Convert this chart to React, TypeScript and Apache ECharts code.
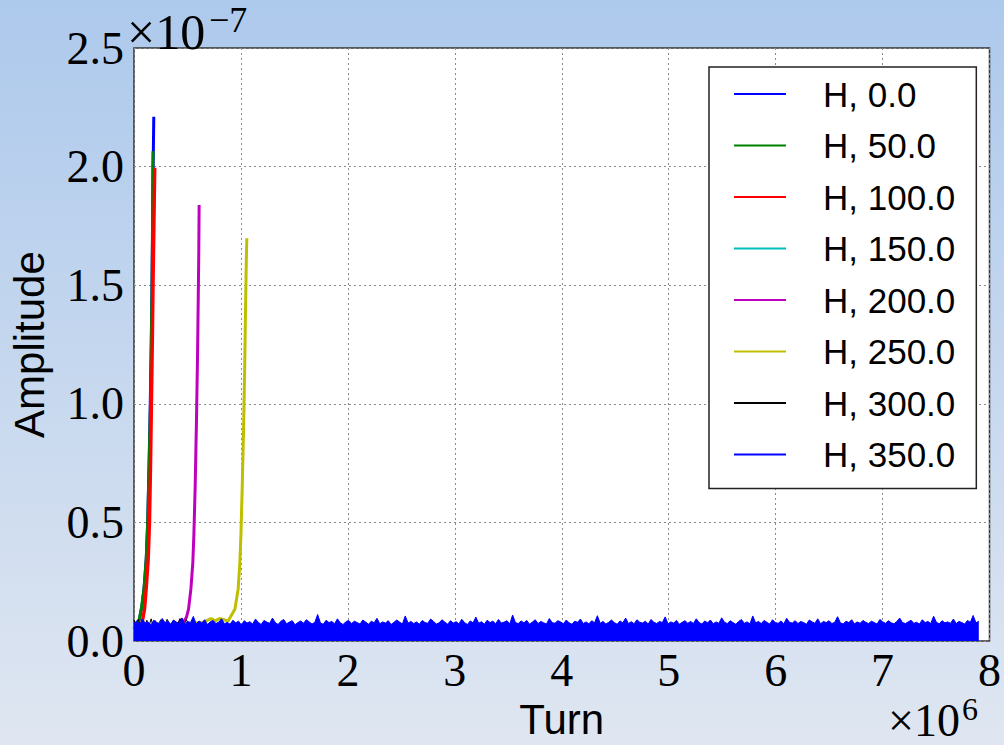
import React, { useEffect, useRef } from "react";
import * as echarts from "echarts";

// Turn in units of 1e6, amplitude in units of 1e-7
const SERIES_NAMES = ["H, 0.0", "H, 50.0", "H, 100.0", "H, 150.0", "H, 200.0", "H, 250.0", "H, 300.0", "H, 350.0"];
const SERIES_COLORS = ["#0000ff", "#008000", "#ff0000", "#00bfbf", "#bf00bf", "#bfbf00", "#000000", "#0000ff"];

const X_TICKS = [0, 1, 2, 3, 4, 5, 6, 7, 8];
const Y_TICKS = [0, 0.5, 1.0, 1.5, 2.0, 2.5];

const H0: [number, number][] = [
  [0.0, 0.05], [0.02, 0.07], [0.05, 0.09], [0.075, 0.15], [0.096, 0.23], [0.115, 0.35], [0.128, 0.5],
  [0.141, 0.75], [0.152, 1.0], [0.161, 1.25], [0.168, 1.5], [0.174, 1.75], [0.179, 2.0], [0.185, 2.21],
];
const H50: [number, number][] = [
  [0.0, 0.05], [0.02, 0.07], [0.046, 0.085], [0.07, 0.14], [0.093, 0.22], [0.114, 0.345], [0.128, 0.5],
  [0.142, 0.75], [0.154, 1.0], [0.162, 1.25], [0.169, 1.5], [0.173, 1.75], [0.176, 2.0], [0.178, 2.065],
];
const H100: [number, number][] = [
  [0.0, 0.05], [0.05, 0.06], [0.077, 0.08], [0.099, 0.135], [0.114, 0.22], [0.133, 0.345], [0.145, 0.5],
  [0.155, 0.75], [0.163, 1.0], [0.171, 1.25], [0.178, 1.5], [0.186, 1.75], [0.194, 1.995],
];
const H150: [number, number][] = [
  [0.0, 0.04], [0.05, 0.06], [0.1, 0.05], [0.15, 0.065], [0.2, 0.05], [0.25, 0.06], [0.3, 0.05],
];
const H200: [number, number][] = [
  [0.0, 0.05], [0.1, 0.06], [0.2, 0.05], [0.3, 0.065], [0.4, 0.06], [0.44, 0.09], [0.464, 0.08],
  [0.49, 0.1], [0.51, 0.135], [0.532, 0.22], [0.55, 0.33], [0.56, 0.45], [0.572, 0.65], [0.585, 0.95],
  [0.594, 1.2], [0.601, 1.45], [0.606, 1.65], [0.609, 1.838],
];
const H250: [number, number][] = [
  [0.0, 0.05], [0.2, 0.06], [0.4, 0.07], [0.55, 0.075], [0.65, 0.08], [0.72, 0.095], [0.76, 0.085],
  [0.8, 0.095], [0.84, 0.09], [0.88, 0.085], [0.944, 0.135], [0.974, 0.22], [0.99, 0.33], [1.0, 0.45],
  [1.012, 0.65], [1.025, 0.9], [1.035, 1.15], [1.043, 1.4], [1.05, 1.6], [1.055, 1.698],
];
const H300: [number, number][] = [
  [0.0, 0.09], [0.02, 0.06], [0.04, 0.092], [0.06, 0.065], [0.08, 0.09], [0.1, 0.06], [0.12, 0.088],
  [0.14, 0.062], [0.16, 0.094], [0.18, 0.06], [0.2, 0.086], [0.22, 0.064], [0.25, 0.09], [0.28, 0.06],
  [0.31, 0.092], [0.34, 0.065], [0.37, 0.088], [0.4, 0.06], [0.43, 0.095], [0.46, 0.062], [0.49, 0.09],
  [0.52, 0.06], [0.55, 0.085], [0.58, 0.06],
];

// H, 350.0: top of the fast-oscillating noise band (units of 1e-10), sampled evenly from 0 to 7.9e6 turns
const H350_START = 0;
const H350_END = 7.9;
const H350_TOP = [
  74, 86, 70, 92, 76, 81, 68, 88, 79, 73, 95, 77, 84, 71, 89, 80, 75, 98, 69, 83,
  78, 104, 72, 85, 76, 90, 70, 82, 87, 74, 80, 94, 73, 79, 71, 88, 77, 84, 68, 86,
  76, 82, 72, 93, 79, 70, 87, 80, 75, 97, 78, 70, 84, 91, 73, 80, 86, 69, 78, 85,
  75, 90, 81, 72, 79, 112, 76, 71, 88, 78, 83, 73, 94, 77, 70, 82, 87, 74, 84, 78,
  72, 89, 80, 71, 84, 77, 96, 73, 81, 76, 86, 70, 79, 89, 80, 72, 106, 76, 83, 74,
  81, 71, 87, 78, 75, 93, 83, 72, 77, 90, 80, 71, 86, 76, 82, 73, 92, 78, 70, 85,
  77, 101, 75, 82, 71, 88, 78, 84, 73, 91, 76, 80, 86, 72, 110, 78, 74, 85, 77, 87,
  71, 80, 90, 74, 83, 77, 72, 95, 78, 75, 86, 81, 73, 89, 77, 71, 84, 79, 93, 74,
  81, 73, 86, 77, 107, 75, 83, 72, 79, 89, 78, 71, 85, 77, 97, 74, 82, 73, 90, 79,
  76, 84, 72, 91, 79, 74, 83, 78, 102, 73, 81, 76, 87, 71, 79, 86, 75, 83, 74, 94,
  78, 72, 85, 77, 89, 73, 81, 75, 98, 79, 74, 86, 78, 71, 83, 91, 75, 81, 73, 106,
  77, 83, 74, 87, 79, 72, 90, 78, 75, 85, 73, 96, 79, 76, 86, 74, 83, 78, 71, 89,
  81, 75, 94, 73, 83, 78, 86, 74, 79, 103, 77, 72, 84, 78, 90, 73, 81, 75, 87, 79,
  74, 84, 78, 72, 91, 81, 75, 86, 77, 73, 83, 97, 78, 74, 81, 88, 75, 79, 72, 90,
  78, 83, 74, 105, 79, 73, 86, 77, 81, 75, 93, 74, 83, 78, 72, 87, 79, 108, 77, 84,
];

const SERIF = "'Liberation Serif', 'Times New Roman', serif";
const SANS = "'Liberation Sans', Arial, sans-serif";

export default function App() {
  const ref = useRef<HTMLDivElement>(null);

  useEffect(() => {
    const prevMargin = document.body.style.margin;
    document.body.style.margin = "0";
    const chart = echarts.init(ref.current!, null, { renderer: "svg" });

    const n = H350_TOP.length;
    const h350 = H350_TOP.map((v, i) => [H350_START + ((H350_END - H350_START) * i) / (n - 1), v / 1000]);

    const spikeData = [H0, H50, H100, H150, H200, H250, H300];
    const spikeWidths = [3, 3, 3.4, 1.5, 3, 3, 1];

    const series: any[] = spikeData.map((d, i) => ({
      name: SERIES_NAMES[i],
      type: "line",
      data: d,
      showSymbol: false,
      symbol: "none",
      color: SERIES_COLORS[i],
      lineStyle: { width: spikeWidths[i], color: SERIES_COLORS[i] },
      z: 2 + i,
    }));
    series.push({
      name: SERIES_NAMES[7],
      type: "line",
      data: h350,
      showSymbol: false,
      symbol: "none",
      color: SERIES_COLORS[7],
      lineStyle: { width: 1, color: SERIES_COLORS[7] },
      areaStyle: { color: SERIES_COLORS[7], opacity: 1 },
      z: 10,
    });

    const gridLine = { show: true, lineStyle: { type: [2, 3], color: "#8a8a8a", width: 1 } };

    chart.setOption({
      animation: false,
      backgroundColor: new echarts.graphic.LinearGradient(0, 0, 0, 1, [
        { offset: 0, color: "#adc9ec" },
        { offset: 1, color: "#dfe6f1" },
      ]),
      grid: {
        left: 130,
        right: 11,
        top: 48,
        bottom: 103,
        show: true,
        backgroundColor: "#ffffff",
        borderColor: "#333333",
        borderWidth: 1.5,
        containLabel: false,
      },
      legend: {
        orient: "vertical",
        left: 709,
        top: 67,
        padding: [9, 21, 16, 25],
        itemGap: 15.5,
        itemWidth: 52,
        itemHeight: 2,
        icon: "rect",
        selectedMode: false,
        backgroundColor: "#ffffff",
        borderColor: "#222222",
        borderWidth: 1.5,
        data: SERIES_NAMES,
        textStyle: {
          fontFamily: SANS,
          fontSize: 35,
          lineHeight: 36,
          color: "#000000",
          padding: [0, 0, 0, 32],
        },
      },
      xAxis: {
        type: "value",
        min: X_TICKS[0],
        max: X_TICKS[X_TICKS.length - 1],
        interval: 1,
        name: "Turn",
        nameLocation: "middle",
        nameGap: 54,
        nameTextStyle: { fontFamily: SANS, fontSize: 42, color: "#000" },
        axisLine: { show: false },
        axisTick: { show: false },
        axisLabel: {
          fontFamily: SERIF,
          fontSize: 46,
          color: "#000",
          margin: 6,
          formatter: (v: number) => String(v),
        },
        splitLine: gridLine,
      },
      yAxis: {
        type: "value",
        min: Y_TICKS[0],
        max: Y_TICKS[Y_TICKS.length - 1],
        interval: 0.5,
        name: "Amplitude",
        nameLocation: "middle",
        nameGap: 84,
        nameTextStyle: { fontFamily: SANS, fontSize: 42, color: "#000" },
        axisLine: { show: false },
        axisTick: { show: false },
        axisLabel: {
          fontFamily: SERIF,
          fontSize: 46,
          color: "#000",
          margin: 10,
          formatter: (v: number) => v.toFixed(1),
        },
        splitLine: gridLine,
      },
      graphic: [
        {
          type: "text",
          left: 127,
          top: 7,
          style: { text: "×10", font: `50px ${SERIF}`, fill: "#000" },
          z: 100,
        },
        {
          type: "text",
          left: 209,
          top: 2,
          style: { text: "−7", font: `36px ${SERIF}`, fill: "#000" },
          z: 100,
        },
        {
          type: "text",
          left: 888,
          top: 697,
          style: { text: "×10", font: `46px ${SERIF}`, fill: "#000" },
          z: 100,
        },
        {
          type: "text",
          left: 962,
          top: 693,
          style: { text: "6", font: `32px ${SERIF}`, fill: "#000" },
          z: 100,
        },
      ],
      series,
    });

    return () => {
      chart.dispose();
      document.body.style.margin = prevMargin;
    };
  }, []);

  return (
    <div
      ref={ref}
      style={{ position: "fixed", left: 0, top: 0, width: 1004, height: 745 }}
    />
  );
}
